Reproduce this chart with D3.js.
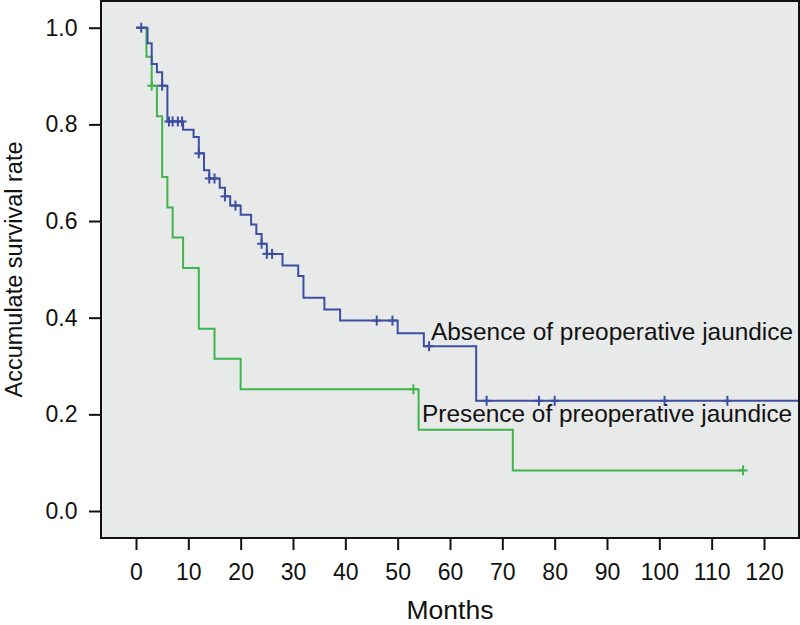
<!DOCTYPE html>
<html>
<head>
<meta charset="utf-8">
<script src="https://cdn.jsdelivr.net/npm/d3@7"></script>
<style>
  html, body { margin: 0; padding: 0; background: #ffffff; }
  svg { display: block; }
  text { font-family: "Liberation Sans", Arial, Helvetica, sans-serif; fill: #111; }
</style>
</head>
<body>
<svg id="chart" width="800" height="625"></svg>
<script>
// ---- Data ----
// Absence of preoperative jaundice: step times (months) and survival after each step
const absenceTimes = [0, 2.2, 3, 4, 5, 6, 9, 11, 12, 13, 14, 16, 17, 18, 20, 22, 23, 24, 25, 28, 31, 32, 36, 39, 50, 55, 65];
const absenceSurv  = [1.0, 0.968, 0.925, 0.908, 0.880, 0.806, 0.789, 0.774, 0.740, 0.705, 0.688, 0.669, 0.651, 0.632, 0.613, 0.593, 0.573, 0.553, 0.532, 0.508, 0.486, 0.441, 0.417, 0.394, 0.368, 0.341, 0.228];
const absenceEnd = 126.7;
const absenceCensored = [1, 5, 6.3, 7, 8, 8.8, 12, 14, 15, 17, 19, 24, 25, 26, 46, 49, 56, 67, 77, 80, 101, 113];

// Presence of preoperative jaundice
const presenceTimes = [0, 2, 3, 4, 5, 6, 7, 9, 12, 15, 20, 54, 72];
const presenceSurv  = [1.0, 0.940, 0.880, 0.817, 0.691, 0.628, 0.566, 0.503, 0.377, 0.315, 0.252, 0.168, 0.084];
const presenceEnd = 116;
const presenceCensored = [3, 53, 116];

const xTicks = [0, 10, 20, 30, 40, 50, 60, 70, 80, 90, 100, 110, 120];
const yTicks = [0.0, 0.2, 0.4, 0.6, 0.8, 1.0];

const seriesLabels = ["Absence of preoperative jaundice", "Presence of preoperative jaundice"];
const xTitle = "Months";
const yTitle = "Accumulate survival rate";

// ---- Layout ----
const frame = { left: 101, top: 1, right: 799, bottom: 538 };
const svg = d3.select("#chart");

const x = d3.scaleLinear().domain([0, 120]).range([136, 764]);
const y = d3.scaleLinear().domain([0, 1]).range([511, 27.7]);

const blue = "#3c4fa2";
const green = "#3fb44c";

// background panel
svg.append("rect")
  .attr("x", frame.left).attr("y", frame.top)
  .attr("width", frame.right - frame.left).attr("height", frame.bottom - frame.top)
  .attr("fill", "#e8e9e9");

// clip for the lines
svg.append("clipPath").attr("id", "plotclip")
  .append("rect")
  .attr("x", frame.left).attr("y", frame.top)
  .attr("width", frame.right - frame.left).attr("height", frame.bottom - frame.top);

function stepPoints(times, surv, end) {
  const pts = times.map((t, i) => [t, surv[i]]);
  pts.push([end, surv[surv.length - 1]]);
  return pts;
}
function survAt(times, surv, t) {
  let v = surv[0];
  for (let i = 0; i < times.length; i++) { if (times[i] <= t) v = surv[i]; }
  return v;
}

const line = d3.line()
  .x(d => x(d[0]))
  .y(d => y(d[1]))
  .curve(d3.curveStepAfter);

const g = svg.append("g").attr("clip-path", "url(#plotclip)");

function drawSeries(times, surv, end, cens, color) {
  g.append("path")
    .datum(stepPoints(times, surv, end))
    .attr("d", line)
    .attr("fill", "none")
    .attr("stroke", color)
    .attr("stroke-width", 2);
  const cg = g.append("g");
  cens.forEach(t => {
    const cx = x(t), cy = y(survAt(times, surv, t));
    cg.append("line").attr("x1", cx).attr("x2", cx).attr("y1", cy - 5).attr("y2", cy + 5)
      .attr("stroke", color).attr("stroke-width", 2);
    cg.append("line").attr("x1", cx - 4.5).attr("x2", cx + 4.5).attr("y1", cy).attr("y2", cy)
      .attr("stroke", color).attr("stroke-width", 2);
  });
}

drawSeries(presenceTimes, presenceSurv, presenceEnd, presenceCensored, green);
drawSeries(absenceTimes, absenceSurv, absenceEnd, absenceCensored, blue);

// frame
svg.append("rect")
  .attr("x", frame.left).attr("y", frame.top)
  .attr("width", frame.right - frame.left).attr("height", frame.bottom - frame.top)
  .attr("fill", "none").attr("stroke", "#111").attr("stroke-width", 2);

// x axis
const xAxis = d3.axisBottom(x).tickValues(xTicks).tickSize(12).tickPadding(13.5).tickFormat(d3.format("d"));
const xg = svg.append("g").attr("transform", `translate(0,${frame.bottom})`).call(xAxis);
xg.select(".domain").remove();
xg.selectAll(".tick line").attr("stroke", "#111").attr("stroke-width", 2);
xg.selectAll(".tick text").attr("font-size", 23).attr("fill", "#111")
  .attr("font-family", "Liberation Sans, Arial, sans-serif");

// y axis
const yAxis = d3.axisLeft(y).tickValues(yTicks).tickSize(12).tickPadding(11.5).tickFormat(d3.format(".1f"));
const yg = svg.append("g").attr("transform", `translate(${frame.left},0)`).call(yAxis);
yg.select(".domain").remove();
yg.selectAll(".tick line").attr("stroke", "#111").attr("stroke-width", 2);
yg.selectAll(".tick text").attr("font-size", 23).attr("fill", "#111")
  .attr("font-family", "Liberation Sans, Arial, sans-serif");

// series labels
svg.append("text").attr("x", 431).attr("y", 340).attr("font-size", 24.4).text(seriesLabels[0]);
svg.append("text").attr("x", 422).attr("y", 422).attr("font-size", 24.4).text(seriesLabels[1]);

// axis titles
svg.append("text").attr("x", (frame.left + frame.right) / 2).attr("y", 618.5)
  .attr("text-anchor", "middle").attr("font-size", 26.5).text(xTitle);
svg.append("text")
  .attr("transform", `translate(21.5,${(frame.top + frame.bottom) / 2}) rotate(-90)`)
  .attr("text-anchor", "middle").attr("font-size", 23.5).text(yTitle);
</script>
</body>
</html>
